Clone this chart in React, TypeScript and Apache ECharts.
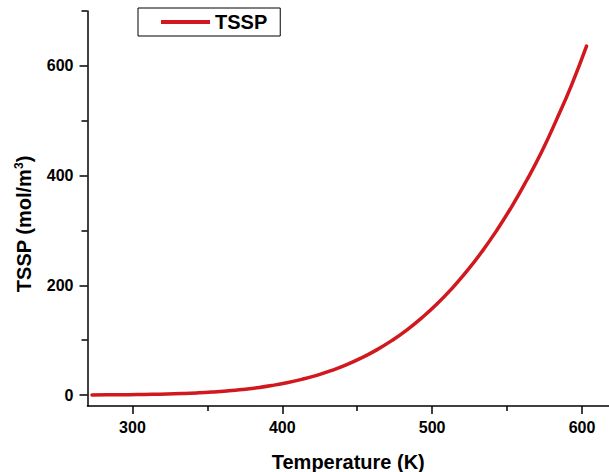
import React, { useEffect, useRef } from "react";
import * as echarts from "echarts";

const temperature = [273, 283, 293, 303, 313, 323, 333, 343, 353, 363, 373, 383, 393, 403, 413, 423, 433, 443, 453, 463, 473, 483, 493, 503, 513, 523, 533, 543, 553, 563, 573, 583, 593, 603];
const tssp = [0.18, 0.31, 0.51, 0.8, 1.23, 1.84, 2.69, 3.83, 5.36, 7.35, 9.92, 13.2, 17.3, 22.3, 28.5, 35.9, 44.9, 55.4, 67.9, 82.3, 99.1, 118.4, 140.5, 165.4, 193.6, 225.2, 260.5, 299.7, 343, 391, 443, 502, 565, 636];
const xMajorTicks = [300, 400, 500, 600];
const xMinorTicks = [350, 450, 550];
const yMajorTicks = [0, 200, 400, 600];
const yMinorTicks = [100, 300, 500, 700];

const FONT = "Liberation Sans, Arial, sans-serif";
const RED = "#d0181e";

export default function App() {
  const ref = useRef<HTMLDivElement>(null);
  useEffect(() => {
    if (!ref.current) return;
    const chart = echarts.init(ref.current, null, { renderer: "svg" });
    const xRange = { min: 270, max: 618 };
    const yRange = { min: -20, max: 700 };
    const axisLine = { show: true, onZero: false, lineStyle: { color: "#000", width: 1.5 } };
    const hiddenLine = { show: false, onZero: false };
    const labelStyle = { color: "#000", fontSize: 16, fontWeight: "bold" as const, fontFamily: FONT };
    chart.setOption({
      animation: false,
      backgroundColor: "#fff",
      grid: { left: 87.5, right: 0, top: 11, bottom: 66, containLabel: false, outerBoundsMode: "none" },
      legend: {
        show: true,
        left: 138,
        top: 8,
        padding: [4, 13, 4, 23],
        borderColor: "#000",
        borderWidth: 1,
        icon: "rect",
        itemWidth: 49,
        itemHeight: 4,
        itemGap: 0,
        textStyle: { color: "#000", fontSize: 20, fontWeight: "bold", fontFamily: FONT },
        data: ["TSSP"],
      },
      xAxis: [
        {
          type: "value",
          ...xRange,
          position: "bottom",
          offset: 0,
          axisLine,
          splitLine: { show: false },
          axisTick: { show: true, inside: false, length: 8, lineStyle: { color: "#000", width: 1.5 }, customValues: xMajorTicks },
          axisLabel: { ...labelStyle, margin: 13, customValues: xMajorTicks },
          name: "Temperature (K)",
          nameLocation: "middle",
          nameGap: 46,
          nameTextStyle: { color: "#000", fontSize: 20, fontWeight: "bold", fontFamily: FONT },
        },
        {
          type: "value",
          ...xRange,
          position: "bottom",
          offset: 0,
          axisLine: hiddenLine,
          splitLine: { show: false },
          axisTick: { show: true, inside: false, length: 5, lineStyle: { color: "#000", width: 1.5 }, customValues: xMinorTicks },
          axisLabel: { show: false },
        },
      ],
      yAxis: [
        {
          type: "value",
          ...yRange,
          position: "left",
          offset: 0,
          axisLine,
          splitLine: { show: false },
          axisTick: { show: true, inside: false, length: 8, lineStyle: { color: "#000", width: 1.5 }, customValues: yMajorTicks },
          axisLabel: { ...labelStyle, margin: 14, customValues: yMajorTicks },
        },
        {
          type: "value",
          ...yRange,
          position: "left",
          offset: 0,
          axisLine: hiddenLine,
          splitLine: { show: false },
          axisTick: { show: true, inside: false, length: 6, lineStyle: { color: "#000", width: 1.5 }, customValues: yMinorTicks },
          axisLabel: { show: false },
        },
      ],
      graphic: [
        {
          type: "text",
          x: 24,
          y: 224,
          rotation: Math.PI / 2,
          style: {
            text: "TSSP (mol/m{sup|3})",
            fill: "#000",
            font: `bold 20px ${FONT}`,
            align: "center",
            verticalAlign: "middle",
            textAlign: "center",
            textVerticalAlign: "middle",
            rich: {
              sup: { fontSize: 12, fontWeight: "bold", fontFamily: FONT, fill: "#000", verticalAlign: "top", padding: [0, 0, 10, 0] },
            },
          },
        },
      ],
      series: [
        {
          name: "TSSP",
          type: "line",
          xAxisIndex: 0,
          yAxisIndex: 0,
          smooth: true,
          showSymbol: false,
          symbol: "none",
          color: RED,
          lineStyle: { color: RED, width: 3.5, cap: "round", join: "round" },
          data: temperature.map((t, i) => [t, tssp[i]]),
        },
      ],
    });
    return () => chart.dispose();
  }, []);
  return <div ref={ref} style={{ position: "absolute", left: 0, top: 0, width: 609, height: 472 }} />;
}
